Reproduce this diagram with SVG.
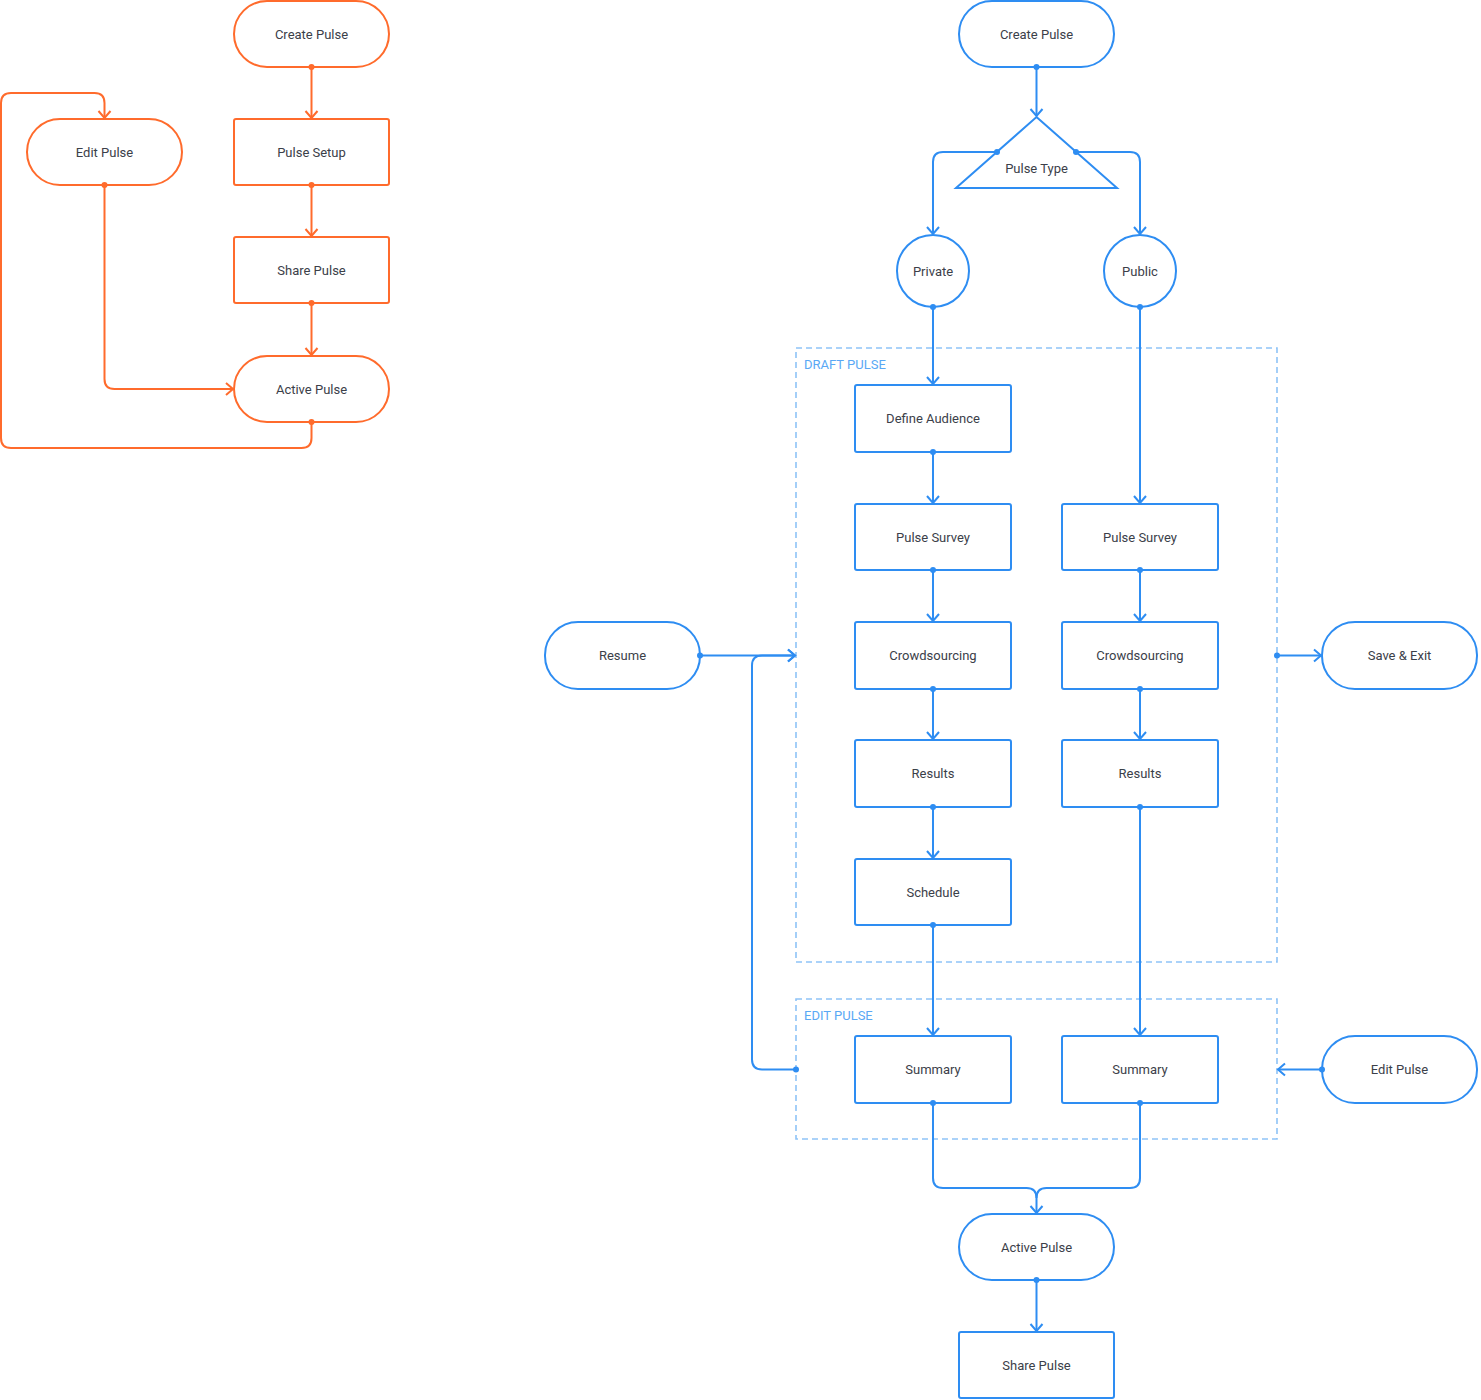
<svg xmlns="http://www.w3.org/2000/svg" width="1481" height="1400" viewBox="0 0 1481 1400">
<style>
text{font-family:Roboto,"Liberation Sans",sans-serif;font-size:13px;fill:#3b4049;text-anchor:middle;dominant-baseline:central}
.o{fill:#fff;stroke:#FF6B2C;stroke-width:2}
.b{fill:#fff;stroke:#2E8DF2;stroke-width:2}
.co{fill:none;stroke:#FF6B2C;stroke-width:2;marker-start:url(#dO);marker-end:url(#aO)}
.cb{fill:none;stroke:#2E8DF2;stroke-width:2;marker-start:url(#dB);marker-end:url(#aB)}
.cd{fill:none;stroke:#2E8DF2;stroke-width:2;marker-start:url(#dB)}
.grp{fill:none;stroke:#8EC3F7;stroke-width:1.6;stroke-dasharray:6 4}
.gl{fill:#5AA8F5;text-anchor:start;font-size:13px}
</style>
<defs>
<marker id="aO" markerUnits="userSpaceOnUse" viewBox="-10 -10 20 20" markerWidth="20" markerHeight="20" orient="auto"><path d="M-7,-6 L0,0 L-7,6" fill="none" stroke="#FF6B2C" stroke-width="2"/></marker>
<marker id="aB" markerUnits="userSpaceOnUse" viewBox="-10 -10 20 20" markerWidth="20" markerHeight="20" orient="auto"><path d="M-7,-6 L0,0 L-7,6" fill="none" stroke="#2E8DF2" stroke-width="2"/></marker>
<marker id="dO" markerUnits="userSpaceOnUse" viewBox="-5 -5 10 10" markerWidth="10" markerHeight="10"><circle r="3" fill="#FF6B2C"/></marker>
<marker id="dB" markerUnits="userSpaceOnUse" viewBox="-5 -5 10 10" markerWidth="10" markerHeight="10"><circle r="3" fill="#2E8DF2"/></marker>
</defs>

<g id="groups">
<rect class="grp" x="796" y="348" width="481" height="614"/>
<text class="gl" x="804" y="364">DRAFT PULSE</text>
<rect class="grp" x="796" y="999" width="481" height="140"/>
<text class="gl" x="804" y="1015">EDIT PULSE</text>
</g>

<g id="o-create"><rect class="o" x="234" y="1" width="155" height="66" rx="33"/><text x="311.5" y="34">Create Pulse</text></g>
<g id="o-setup"><rect class="o" x="234" y="119" width="155" height="66" rx="2"/><text x="311.5" y="152">Pulse Setup</text></g>
<g id="o-share"><rect class="o" x="234" y="237" width="155" height="66" rx="2"/><text x="311.5" y="270">Share Pulse</text></g>
<g id="o-active"><rect class="o" x="234" y="356" width="155" height="66" rx="33"/><text x="311.5" y="389">Active Pulse</text></g>
<g id="o-edit"><rect class="o" x="27" y="119" width="155" height="66" rx="33"/><text x="104.5" y="152">Edit Pulse</text></g>

<g id="b-create"><rect class="b" x="959" y="1" width="155" height="66" rx="33"/><text x="1036.5" y="34">Create Pulse</text></g>
<g id="b-type"><polygon class="b" points="1036.5,117 1117,188 956,188"/><text x="1036.5" y="168">Pulse Type</text></g>
<g id="b-private"><circle class="b" cx="933" cy="271" r="36"/><text x="933" y="271">Private</text></g>
<g id="b-public"><circle class="b" cx="1140" cy="271" r="36"/><text x="1140" y="271">Public</text></g>
<g id="b-audience"><rect class="b" x="855" y="385" width="156" height="67" rx="2"/><text x="933" y="418.5">Define Audience</text></g>
<g id="b-survey1"><rect class="b" x="855" y="504" width="156" height="66" rx="2"/><text x="933" y="537">Pulse Survey</text></g>
<g id="b-crowd1"><rect class="b" x="855" y="622" width="156" height="67" rx="2"/><text x="933" y="655.5">Crowdsourcing</text></g>
<g id="b-results1"><rect class="b" x="855" y="740" width="156" height="67" rx="2"/><text x="933" y="773.5">Results</text></g>
<g id="b-schedule"><rect class="b" x="855" y="859" width="156" height="66" rx="2"/><text x="933" y="892">Schedule</text></g>
<g id="b-survey2"><rect class="b" x="1062" y="504" width="156" height="66" rx="2"/><text x="1140" y="537">Pulse Survey</text></g>
<g id="b-crowd2"><rect class="b" x="1062" y="622" width="156" height="67" rx="2"/><text x="1140" y="655.5">Crowdsourcing</text></g>
<g id="b-results2"><rect class="b" x="1062" y="740" width="156" height="67" rx="2"/><text x="1140" y="773.5">Results</text></g>
<g id="b-summary1"><rect class="b" x="855" y="1036" width="156" height="67" rx="2"/><text x="933" y="1069.5">Summary</text></g>
<g id="b-summary2"><rect class="b" x="1062" y="1036" width="156" height="67" rx="2"/><text x="1140" y="1069.5">Summary</text></g>
<g id="b-resume"><rect class="b" x="545" y="622" width="155" height="67" rx="33"/><text x="622.5" y="655.5">Resume</text></g>
<g id="b-save"><rect class="b" x="1322" y="622" width="155" height="67" rx="33"/><text x="1399.5" y="655.5">Save &amp; Exit</text></g>
<g id="b-editp"><rect class="b" x="1322" y="1036" width="155" height="67" rx="33"/><text x="1399.5" y="1069.5">Edit Pulse</text></g>
<g id="b-active"><rect class="b" x="959" y="1214" width="155" height="66" rx="33"/><text x="1036.5" y="1247">Active Pulse</text></g>
<g id="b-share"><rect class="b" x="959" y="1332" width="155" height="66" rx="2"/><text x="1036.5" y="1365">Share Pulse</text></g>

<g id="connectors">
<path class="co" d="M311.5,67 V118"/>
<path class="co" d="M311.5,185 V236"/>
<path class="co" d="M311.5,303 V355"/>
<path class="co" d="M104.5,185 V379 Q104.5,389 114.5,389 H233"/>
<path class="co" d="M311.5,422 V438 Q311.5,448 301.5,448 H11 Q1,448 1,438 V103 Q1,93 11,93 H94.5 Q104.5,93 104.5,103 V118"/>

<path class="cb" d="M1036.5,67 V116"/>
<path class="cb" d="M997,152 H943 Q933,152 933,162 V234"/>
<path class="cb" d="M1076,152 H1130 Q1140,152 1140,162 V234"/>
<path class="cb" d="M933,307 V384"/>
<path class="cb" d="M933,452 V503"/>
<path class="cb" d="M933,570 V621"/>
<path class="cb" d="M933,689 V739"/>
<path class="cb" d="M933,807 V858"/>
<path class="cb" d="M933,925 V1035"/>
<path class="cb" d="M1140,307 V503"/>
<path class="cb" d="M1140,570 V621"/>
<path class="cb" d="M1140,689 V739"/>
<path class="cb" d="M1140,807 V1035"/>
<path class="cb" d="M700,655.5 H795"/>
<path class="cb" d="M796,1069.5 H762 Q752,1069.5 752,1059.5 V665.5 Q752,655.5 762,655.5 H795"/>
<path class="cb" d="M1277,655.5 H1321"/>
<path class="cb" d="M1322,1069.5 H1278"/>
<path class="cb" d="M933,1103 V1178 Q933,1188 943,1188 H1026.5 Q1036.5,1188 1036.5,1198 V1213"/>
<path class="cd" d="M1140,1103 V1178 Q1140,1188 1130,1188 H1046.5 Q1036.5,1188 1036.5,1198"/>
<path class="cb" d="M1036.5,1280 V1331"/>
</g>
</svg>
